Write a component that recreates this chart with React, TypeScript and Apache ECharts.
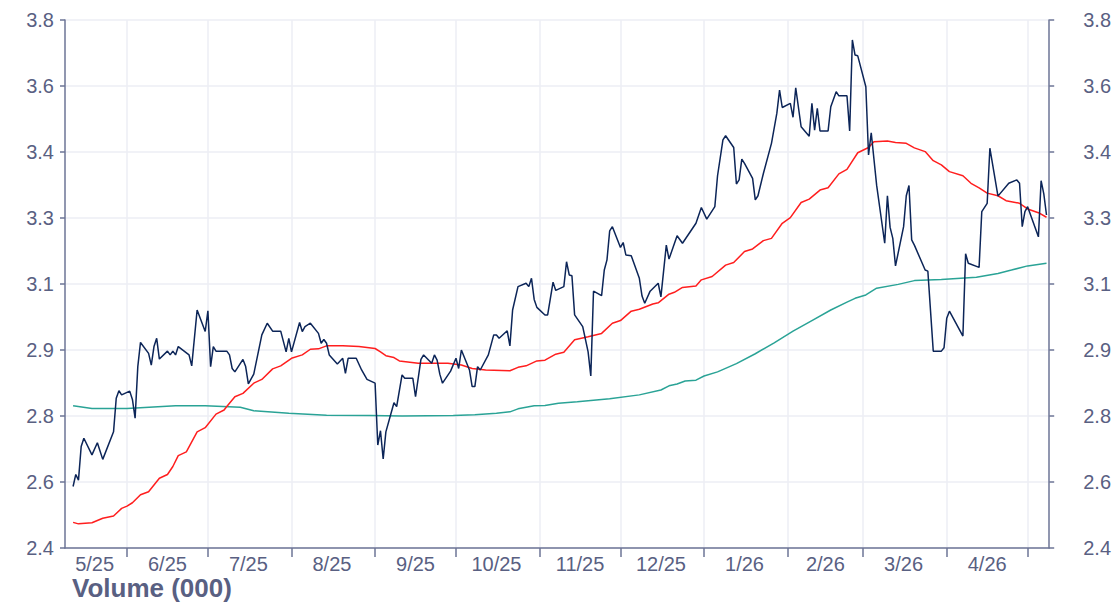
import React, { useEffect, useRef } from 'react';
import * as echarts from 'echarts';

// ---------- data ----------
const axisStart = '2025-05-09';
const axisDayCount = 366;

const yTickLabels = ['2.4', '2.6', '2.8', '2.9', '3.1', '3.3', '3.4', '3.6', '3.8'];
const yMin = 2.4;
const yMax = 3.8;
const yStep = 0.175;

const priceDates = [
  '2025-05-12','2025-05-13','2025-05-14','2025-05-15','2025-05-16','2025-05-19','2025-05-21','2025-05-23','2025-05-27','2025-05-28',
  '2025-05-29','2025-05-30','2025-06-02','2025-06-03','2025-06-04','2025-06-05','2025-06-06','2025-06-09','2025-06-10','2025-06-11',
  '2025-06-12','2025-06-13','2025-06-16','2025-06-17','2025-06-18','2025-06-19','2025-06-20','2025-06-24','2025-06-25','2025-06-27',
  '2025-06-30','2025-07-01','2025-07-02','2025-07-03','2025-07-04','2025-07-08','2025-07-09','2025-07-10','2025-07-11','2025-07-14',
  '2025-07-15','2025-07-16','2025-07-18','2025-07-21','2025-07-23','2025-07-25','2025-07-28','2025-07-30','2025-07-31','2025-08-01',
  '2025-08-04','2025-08-05','2025-08-06','2025-08-08','2025-08-11','2025-08-12','2025-08-13','2025-08-14','2025-08-15','2025-08-18',
  '2025-08-20','2025-08-21','2025-08-22','2025-08-25','2025-08-27','2025-08-29','2025-09-01','2025-09-02','2025-09-03','2025-09-04',
  '2025-09-05','2025-09-08','2025-09-09','2025-09-11','2025-09-12','2025-09-15','2025-09-16','2025-09-18','2025-09-19','2025-09-22',
  '2025-09-23','2025-09-24','2025-09-25','2025-09-26','2025-09-29','2025-10-01','2025-10-02','2025-10-03','2025-10-06','2025-10-07',
  '2025-10-08','2025-10-09','2025-10-10','2025-10-13','2025-10-15','2025-10-16','2025-10-17','2025-10-20','2025-10-21','2025-10-22',
  '2025-10-24','2025-10-27','2025-10-28','2025-10-29','2025-10-30','2025-10-31','2025-11-03','2025-11-04','2025-11-06','2025-11-07',
  '2025-11-10','2025-11-11','2025-11-12','2025-11-13','2025-11-14','2025-11-17','2025-11-19','2025-11-20','2025-11-21','2025-11-24',
  '2025-11-25','2025-11-26','2025-11-27','2025-11-28','2025-12-01','2025-12-02','2025-12-03','2025-12-05','2025-12-08','2025-12-09',
  '2025-12-10','2025-12-12','2025-12-15','2025-12-16','2025-12-18','2025-12-19','2025-12-22','2025-12-24','2025-12-29','2025-12-31',
  '2026-01-02','2026-01-05','2026-01-06','2026-01-08','2026-01-09','2026-01-12','2026-01-13','2026-01-14','2026-01-15','2026-01-16',
  '2026-01-19','2026-01-20','2026-01-21','2026-01-23','2026-01-26','2026-01-28','2026-01-29','2026-01-30','2026-02-02','2026-02-03',
  '2026-02-04','2026-02-06','2026-02-09','2026-02-10','2026-02-11','2026-02-12','2026-02-13','2026-02-16','2026-02-17','2026-02-19',
  '2026-02-20','2026-02-23','2026-02-24','2026-02-25','2026-02-26','2026-02-27','2026-03-02','2026-03-03','2026-03-04','2026-03-06',
  '2026-03-09','2026-03-10','2026-03-11','2026-03-12','2026-03-13','2026-03-16','2026-03-17','2026-03-18','2026-03-19','2026-03-20',
  '2026-03-24','2026-03-25','2026-03-27','2026-03-30','2026-03-31','2026-04-01','2026-04-02','2026-04-07','2026-04-08','2026-04-09',
  '2026-04-13','2026-04-14','2026-04-16','2026-04-17','2026-04-20','2026-04-24','2026-04-27','2026-04-28','2026-04-29','2026-04-30',
  '2026-05-01','2026-05-05','2026-05-06','2026-05-07','2026-05-08',
];
const priceValues = [
  2.563,2.595,2.580,2.669,2.691,2.647,2.679,2.635,2.708,2.797,
  2.817,2.806,2.816,2.794,2.744,2.881,2.945,2.916,2.885,2.934,
  2.956,2.901,2.922,2.912,2.922,2.912,2.934,2.912,2.883,3.031,
  2.974,3.029,2.881,2.934,2.922,2.922,2.912,2.876,2.867,2.900,
  2.881,2.835,2.861,2.965,2.996,2.975,2.975,2.920,2.956,2.920,
  2.998,2.974,2.987,2.996,2.969,2.943,2.953,2.943,2.912,2.888,
  2.903,2.863,2.903,2.903,2.872,2.847,2.837,2.673,2.711,2.636,
  2.708,2.785,2.775,2.859,2.850,2.850,2.801,2.900,2.912,2.890,
  2.912,2.898,2.861,2.837,2.869,2.903,2.876,2.925,2.872,2.828,
  2.828,2.881,2.872,2.912,2.965,2.965,2.956,2.976,2.936,3.031,
  3.093,3.102,3.093,3.115,3.059,3.038,3.018,3.018,3.105,3.083,
  3.093,3.159,3.124,3.122,3.018,2.987,2.920,2.856,3.081,3.069,
  3.137,3.164,3.241,3.252,3.197,3.210,3.177,3.175,3.115,3.068,
  3.049,3.081,3.102,3.066,3.203,3.166,3.228,3.208,3.261,3.303,
  3.272,3.305,3.387,3.482,3.493,3.462,3.365,3.376,3.431,3.420,
  3.380,3.323,3.334,3.393,3.473,3.553,3.614,3.568,3.579,3.542,
  3.620,3.517,3.492,3.579,3.508,3.566,3.506,3.506,3.570,3.610,
  3.599,3.599,3.506,3.747,3.707,3.705,3.623,3.442,3.501,3.362,
  3.208,3.334,3.250,3.221,3.148,3.252,3.334,3.361,3.217,3.203,
  3.137,3.134,2.922,2.922,2.931,3.009,3.028,2.962,3.180,3.155,
  3.144,3.292,3.314,3.460,3.333,3.367,3.376,3.367,3.252,3.292,
  3.305,3.225,3.374,3.339,3.283,
];

const ma50Dates = [
  '2025-05-12','2025-05-14','2025-05-19','2025-05-23','2025-05-27','2025-05-30','2025-06-01','2025-06-03','2025-06-06','2025-06-09',
  '2025-06-13','2025-06-16','2025-06-18','2025-06-20','2025-06-23','2025-06-27','2025-06-30','2025-07-04','2025-07-07','2025-07-08',
  '2025-07-11','2025-07-14','2025-07-18','2025-07-21','2025-07-25','2025-07-28','2025-08-01','2025-08-05','2025-08-08','2025-08-11',
  '2025-08-14','2025-08-20','2025-08-26','2025-09-01','2025-09-03','2025-09-05','2025-09-08','2025-09-10','2025-09-17','2025-09-28',
  '2025-10-03','2025-10-07','2025-10-12','2025-10-21','2025-10-24','2025-10-27','2025-10-31','2025-11-03','2025-11-07','2025-11-10',
  '2025-11-14','2025-11-19','2025-11-24','2025-11-28','2025-12-01','2025-12-05','2025-12-08','2025-12-13','2025-12-15','2025-12-19',
  '2025-12-21','2025-12-24','2025-12-29','2025-12-31','2026-01-04','2026-01-09','2026-01-12','2026-01-16','2026-01-19','2026-01-23',
  '2026-01-26','2026-01-30','2026-02-02','2026-02-06','2026-02-09','2026-02-13','2026-02-16','2026-02-20','2026-02-23','2026-02-27',
  '2026-03-03','2026-03-05','2026-03-10','2026-03-13','2026-03-17','2026-03-20','2026-03-24','2026-03-27','2026-03-30','2026-04-02',
  '2026-04-07','2026-04-10','2026-04-13','2026-04-16','2026-04-20','2026-04-23','2026-04-28','2026-05-01','2026-05-05','2026-05-08',
];
const ma50Values = [
  2.468,2.464,2.467,2.479,2.485,2.505,2.511,2.520,2.541,2.549,
  2.585,2.595,2.616,2.645,2.655,2.708,2.719,2.755,2.766,2.775,
  2.801,2.810,2.837,2.847,2.875,2.883,2.903,2.912,2.927,2.928,
  2.936,2.936,2.934,2.929,2.920,2.910,2.905,2.896,2.890,2.890,
  2.885,2.876,2.872,2.870,2.879,2.883,2.896,2.898,2.914,2.919,
  2.952,2.960,2.969,2.996,3.003,3.028,3.033,3.047,3.050,3.073,
  3.078,3.091,3.095,3.111,3.120,3.150,3.157,3.186,3.193,3.215,
  3.221,3.261,3.276,3.316,3.325,3.349,3.355,3.392,3.404,3.448,
  3.462,3.477,3.479,3.475,3.473,3.461,3.451,3.427,3.416,3.398,
  3.387,3.367,3.355,3.341,3.334,3.321,3.314,3.299,3.289,3.277,
];

const ma200Dates = [
  '2025-05-12','2025-05-19','2025-06-01','2025-06-19','2025-06-30','2025-07-13','2025-07-18','2025-07-31','2025-08-14','2025-08-30',
  '2025-09-11','2025-09-30','2025-10-08','2025-10-16','2025-10-21','2025-10-24','2025-10-30','2025-11-03','2025-11-08','2025-11-15',
  '2025-11-27','2025-12-08','2025-12-16','2025-12-19','2025-12-22','2025-12-25','2025-12-29','2026-01-01','2026-01-06','2026-01-13',
  '2026-01-20','2026-01-27','2026-02-03','2026-02-10','2026-02-17','2026-02-23','2026-02-26','2026-03-02','2026-03-06','2026-03-14',
  '2026-03-20','2026-03-30','2026-04-12','2026-04-20','2026-04-25','2026-05-01','2026-05-08',
];
const ma200Values = [
  2.777,2.770,2.770,2.777,2.777,2.773,2.764,2.757,2.752,2.751,
  2.750,2.751,2.753,2.757,2.761,2.769,2.777,2.778,2.784,2.788,
  2.796,2.806,2.819,2.830,2.835,2.843,2.845,2.856,2.867,2.889,
  2.915,2.944,2.975,3.003,3.031,3.052,3.062,3.071,3.089,3.099,
  3.109,3.112,3.118,3.128,3.137,3.148,3.155,
];

// ---------- style ----------
const AXIS_COLOR = '#6d7596';
const LABEL_COLOR = '#596082';
const GRID_COLOR = '#eceef4';
const FONT = '"Liberation Sans", Arial, Helvetica, sans-serif';

function buildDays(): string[] {
  const out: string[] = [];
  const [y, m, d] = axisStart.split('-').map(Number);
  const start = Date.UTC(y, m - 1, d);
  for (let i = 0; i < axisDayCount; i++) {
    out.push(new Date(start + i * 86400000).toISOString().slice(0, 10));
  }
  return out;
}

export default function App() {
  const ref = useRef<HTMLDivElement>(null);

  useEffect(() => {
    if (!ref.current) return;
    const chart = echarts.init(ref.current, undefined, { renderer: 'svg' });

    const days = buildDays();
    const indexOf = new Map<string, number>();
    days.forEach((d, i) => indexOf.set(d, i));

    const toSeries = (dates: string[], values: number[]) => {
      const arr: (number | null)[] = new Array(days.length).fill(null);
      dates.forEach((d, i) => {
        const k = indexOf.get(d);
        if (k !== undefined) arr[k] = values[i];
      });
      return arr;
    };

    // label at the middle of each month's visible span
    const monthSpans = new Map<string, [number, number]>();
    days.forEach((d, i) => {
      const key = d.slice(0, 7);
      const s = monthSpans.get(key);
      if (!s) monthSpans.set(key, [i, i]);
      else s[1] = i;
    });
    const labelIdx = new Set<number>();
    monthSpans.forEach(([a, b]) => {
      if (b - a + 1 >= 15) labelIdx.add(Math.floor((a + b) / 2 + 0.5));
    });
    const isMonthStart = (i: number) => days[i].endsWith('-01');

    const yLabel = (v: number) => yTickLabels[Math.round((v - yMin) / yStep)] ?? '';

    const yAxisBase = {
      type: 'value' as const,
      min: yMin,
      max: yMax,
      interval: yStep,
      axisLine: { show: true, lineStyle: { color: AXIS_COLOR, width: 1.5 } },
      axisTick: { show: true, length: 5, lineStyle: { color: AXIS_COLOR, width: 1.5 } },
    };

    chart.setOption({
      animation: false,
      grid: { left: 65, right: 61, top: 20, bottom: 55, containLabel: false },
      xAxis: {
        type: 'category',
        data: days,
        boundaryGap: false,
        axisLine: { show: true, lineStyle: { color: AXIS_COLOR, width: 1.5 } },
        axisTick: {
          show: true,
          interval: (i: number) => isMonthStart(i),
          length: 9,
          lineStyle: { color: AXIS_COLOR, width: 1.5 },
        },
        axisLabel: {
          interval: (i: number) => labelIdx.has(i),
          formatter: (v: string) => {
            const [yy, mm] = v.split('-');
            return `${Number(mm)}/${yy.slice(2)}`;
          },
          color: LABEL_COLOR,
          fontSize: 20,
          fontFamily: FONT,
          margin: 6,
        },
        splitLine: {
          show: true,
          interval: (i: number) => isMonthStart(i),
          lineStyle: { color: GRID_COLOR, width: 1.5 },
        },
      },
      yAxis: [
        {
          ...yAxisBase,
          position: 'left',
          axisLabel: { formatter: yLabel, color: LABEL_COLOR, fontSize: 20, fontFamily: FONT, margin: 11 },
          splitLine: { show: true, lineStyle: { color: GRID_COLOR, width: 1.5 } },
        },
        {
          ...yAxisBase,
          position: 'right',
          axisLabel: { formatter: yLabel, color: LABEL_COLOR, fontSize: 20, fontFamily: FONT, margin: 34 },
          splitLine: { show: false },
        },
      ],
      series: [
        {
          name: 'MA200',
          type: 'line',
          data: toSeries(ma200Dates, ma200Values),
          connectNulls: true,
          showSymbol: false,
          lineStyle: { color: '#2aa396', width: 1.5 },
          itemStyle: { color: '#2aa396' },
          z: 2,
        },
        {
          name: 'MA50',
          type: 'line',
          data: toSeries(ma50Dates, ma50Values),
          connectNulls: true,
          showSymbol: false,
          lineStyle: { color: '#ff1e1e', width: 1.5 },
          itemStyle: { color: '#ff1e1e' },
          z: 3,
        },
        {
          name: 'Price',
          type: 'line',
          data: toSeries(priceDates, priceValues),
          connectNulls: true,
          showSymbol: false,
          lineStyle: { color: '#0c2558', width: 1.5 },
          itemStyle: { color: '#0c2558' },
          z: 4,
        },
      ],
      graphic: [
        {
          type: 'text',
          left: 72,
          top: 575,
          style: {
            text: 'Volume (000)',
            font: `bold 26px ${FONT}`,
            fill: LABEL_COLOR,
          },
        },
      ],
    });

    return () => chart.dispose();
  }, []);

  return (
    <div
      ref={ref}
      style={{ position: 'fixed', left: 0, top: 0, width: 1114, height: 603, background: '#ffffff' }}
    />
  );
}
